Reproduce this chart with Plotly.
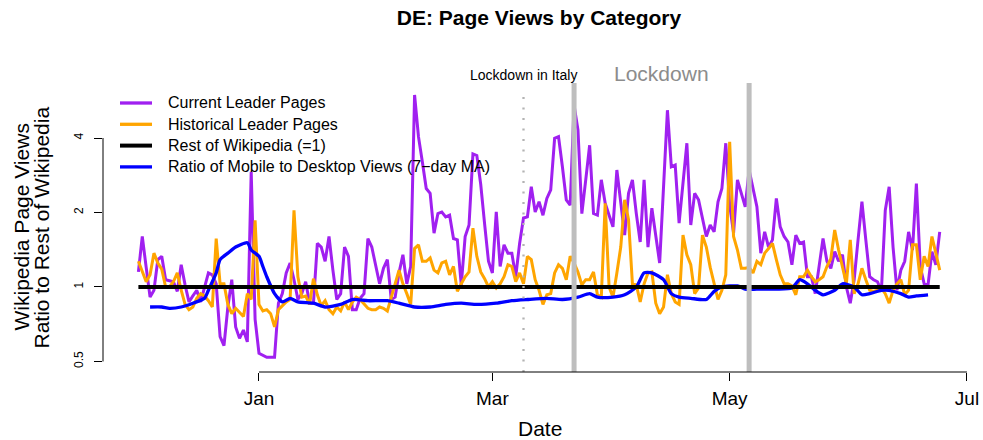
import pandas as pd
import plotly.graph_objects as go

# daily ratios, 2019-12-01 .. 2020-06-24
current_leader = [
    # Dec
    1.15, 1.60, 1.20, 0.91, 0.97, 1.29, 1.33, 1.07, 1.06, 1.05, 0.96, 1.23, 1.02, 0.87, 0.92, 0.97,
    0.87, 1.00, 1.14, 1.12, 1.03, 0.63, 0.58, 0.83, 1.07, 0.69, 0.62, 0.67, 0.60, 2.92, 0.74,
    # Jan
    0.54, 0.53, 0.52, 0.52, 0.52, 0.86, 0.94, 1.14, 1.25, 1.07, 0.89, 0.94, 1.05, 0.86, 0.86, 1.50,
    1.45, 1.27, 1.60, 1.17, 0.89, 0.94, 1.45, 1.33, 0.81, 0.81, 0.90, 0.94, 1.57, 1.45, 1.20,
    # Feb
    1.03, 1.19, 1.29, 0.89, 0.91, 1.14, 1.35, 1.03, 1.21, 5.97, 4.05, 3.20, 2.50, 2.39, 1.65,
    1.98, 2.01, 1.92, 1.95, 1.57, 1.55, 1.02, 1.60, 1.78, 3.45, 3.40, 2.60, 1.80, 1.27,
    # Mar
    1.14, 2.01, 1.21, 1.48, 1.37, 1.37, 1.10, 1.50, 1.90, 1.92, 2.54, 2.01, 2.21, 1.95, 2.28, 2.47,
    3.99, 4.05, 3.06, 2.25, 2.14, 5.43, 4.31, 1.98, 2.71, 3.74, 1.98, 1.95, 2.71, 2.18, 1.95,
    # Apr
    1.75, 2.97, 2.25, 1.62, 2.39, 2.71, 1.98, 1.52, 2.71, 1.45, 2.08, 1.60, 1.25, 2.54, 5.18,
    3.06, 3.11, 1.81, 2.71, 3.81, 1.78, 2.39, 2.25, 1.87, 1.60, 1.78, 1.67, 2.21, 2.50, 3.81,
    # May
    2.14, 1.65, 2.71, 2.39, 2.11, 2.97, 2.47, 2.11, 1.37, 1.67, 1.45, 1.55, 2.28, 1.75, 1.60, 1.52,
    1.23, 1.62, 1.50, 1.52, 1.10, 1.10, 0.94, 1.23, 1.57, 1.27, 1.19, 1.39, 1.27, 1.35, 1.00,
    # Jun
    0.86, 1.07, 1.55, 2.21, 1.55, 1.10, 1.07, 1.05, 0.96, 2.04, 2.54, 1.45, 0.97, 1.17, 1.27, 1.67,
    1.41, 2.62, 1.21, 1.03, 1.02, 1.39, 1.23, 1.67,
]

historical_leader = [
    # Dec
    1.27, 1.15, 1.05, 1.12, 1.37, 1.25, 1.18, 1.00, 1.00, 1.05, 1.14, 0.97, 0.85, 0.81, 0.83, 0.90,
    0.94, 0.92, 0.88, 0.83, 1.57, 1.03, 1.03, 0.85, 0.78, 0.82, 0.79, 0.76, 0.94, 0.89, 1.86,
    # Jan
    0.85, 0.80, 0.81, 0.78, 0.69, 0.81, 0.84, 0.87, 0.89, 2.04, 1.10, 0.91, 0.92, 0.85, 1.08, 0.93,
    0.84, 0.88, 0.81, 0.78, 0.83, 0.80, 0.87, 0.81, 0.87, 0.91, 0.89, 0.85, 0.82, 0.81, 0.81,
    # Feb
    0.83, 0.82, 0.80, 0.90, 1.03, 1.17, 1.03, 0.94, 0.85, 1.43, 1.48, 1.27, 1.27, 1.31, 1.17,
    1.14, 1.25, 1.27, 1.12, 1.21, 0.96, 1.03, 1.10, 1.15, 1.73, 1.33, 1.15, 1.08, 1.00,
    # Mar
    1.05, 0.99, 1.03, 1.10, 1.23, 1.21, 1.05, 1.14, 1.03, 1.33, 1.29, 1.07, 0.97, 0.85, 0.93, 0.94,
    1.14, 1.23, 1.19, 1.07, 1.33, 1.25, 1.15, 1.02, 1.07, 1.07, 1.15, 0.93, 0.91, 2.18, 1.00,
    # Apr
    0.91, 1.14, 1.45, 2.25, 1.87, 1.03, 1.02, 0.87, 1.03, 1.14, 1.15, 0.86, 0.78, 0.83, 1.12,
    0.94, 0.87, 0.85, 1.62, 1.35, 1.23, 0.94, 0.99, 1.62, 1.45, 1.20, 1.02, 0.89, 0.97, 1.12,
    # May
    3.86, 1.60, 1.41, 1.19, 1.19, 1.20, 1.14, 1.27, 1.23, 1.37, 1.43, 1.50, 1.29, 1.12, 1.03, 1.03,
    1.01, 0.93, 1.10, 1.10, 1.17, 1.10, 1.05, 1.07, 1.10, 1.21, 1.30, 1.70, 1.41, 1.21, 1.03,
    # Jun
    1.55, 0.94, 1.03, 1.19, 1.07, 0.97, 0.96, 0.97, 0.99, 0.94, 0.86, 0.97, 1.03, 1.07, 0.93, 0.97,
    1.48, 1.48, 1.07, 1.33, 1.21, 1.60, 1.37, 1.17,
]

dates = pd.date_range("2019-12-01", periods=len(current_leader), freq="D")

# 7-day moving average of mobile/desktop ratio (sampled from the curve)
mobile_dates = [
    "2019-12-04", "2019-12-07", "2019-12-09", "2019-12-12", "2019-12-15", "2019-12-18",
    "2019-12-19", "2019-12-21", "2019-12-22", "2019-12-24", "2019-12-26", "2019-12-29",
    "2019-12-30", "2020-01-01", "2020-01-02", "2020-01-03", "2020-01-05", "2020-01-07",
    "2020-01-09", "2020-01-11", "2020-01-15", "2020-01-18", "2020-01-22", "2020-01-25",
    "2020-01-29", "2020-02-03", "2020-02-06", "2020-02-10", "2020-02-14", "2020-02-18",
    "2020-02-22", "2020-02-26", "2020-03-02", "2020-03-06", "2020-03-10", "2020-03-15",
    "2020-03-19", "2020-03-23", "2020-03-26", "2020-03-28", "2020-04-01", "2020-04-04",
    "2020-04-07", "2020-04-09", "2020-04-11", "2020-04-14", "2020-04-16", "2020-04-18",
    "2020-04-21", "2020-04-25", "2020-04-27", "2020-04-29", "2020-05-03", "2020-05-05",
    "2020-05-08", "2020-05-13", "2020-05-17", "2020-05-19", "2020-05-21", "2020-05-23",
    "2020-05-25", "2020-05-28", "2020-05-30", "2020-06-02", "2020-06-04", "2020-06-06",
    "2020-06-09", "2020-06-11", "2020-06-14", "2020-06-16", "2020-06-18", "2020-06-21",
]
mobile_ratio = [
    0.83, 0.83, 0.82, 0.83, 0.86, 0.90,
    0.97, 1.14, 1.29, 1.37, 1.45, 1.51,
    1.41, 1.33, 1.21, 1.10, 0.94, 0.87,
    0.90, 0.87, 0.86, 0.83, 0.85, 0.89,
    0.88, 0.88, 0.86, 0.83, 0.83, 0.85,
    0.86, 0.85, 0.86, 0.88, 0.89, 0.90,
    0.89, 0.91, 0.94, 0.91, 0.91, 0.93,
    1.00, 1.14, 1.14, 1.07, 0.94, 0.91,
    0.90, 0.89, 0.96, 1.00, 1.01, 0.98,
    0.98, 0.98, 0.99, 1.07, 1.03, 0.97,
    0.93, 0.97, 1.03, 1.00, 0.93, 0.94,
    0.97, 0.97, 0.94, 0.91, 0.92, 0.93,
]

rest_level = 1

italy_lockdown = "2020-03-09"
lockdown_start = "2020-03-22"
lockdown_end = "2020-05-06"

tick_dates = ["2020-01-01", "2020-03-01", "2020-05-01", "2020-07-01"]
tick_labels = ["Jan", "Mar", "May", "Jul"]
y_ticks = [0.5, 1, 2, 4]
y_labels = ["0.5", "1", "2", "4"]

series_names = ["Current Leader Pages", "Historical Leader Pages", "Rest of Wikipedia (=1)",
                "Ratio of Mobile to Desktop Views (7\u2212day MA)"]
series_colors = ["#A020F0", "#FFA500", "black", "#0000FF"]

FONT = "Liberation Sans, Arial, Helvetica, sans-serif"

W, H = 983, 440
ML, MR, MT, MB = 103, 0, 83, 68
PW, PH = W - ML - MR, H - MT - MB


def px_x(x):
    return (x - ML) / PW


def px_y(y):
    return (H - MB - y) / PH


fig = go.Figure()
fig.add_trace(go.Scatter(x=dates, y=current_leader, mode="lines", name=series_names[0],
                         line=dict(color=series_colors[0], width=3)))
fig.add_trace(go.Scatter(x=dates, y=historical_leader, mode="lines", name=series_names[1],
                         line=dict(color=series_colors[1], width=3)))
fig.add_trace(go.Scatter(x=pd.to_datetime(mobile_dates), y=mobile_ratio, mode="lines",
                         name=series_names[3],
                         line=dict(color=series_colors[3], width=3.3, shape="spline", smoothing=0.6)))
fig.add_trace(go.Scatter(x=[dates[0], dates[-1]], y=[rest_level, rest_level], mode="lines",
                         name=series_names[2], line=dict(color=series_colors[2], width=4)))

# event markers
fig.add_shape(type="line", xref="x", yref="paper", x0=italy_lockdown, x1=italy_lockdown,
              y0=0, y1=0.965, line=dict(color="#B3B3B3", width=2.3, dash="2px,8.5px"))
for d in [lockdown_start, lockdown_end]:
    fig.add_shape(type="line", xref="x", yref="paper", x0=d, x1=d, y0=0, y1=1,
                  line=dict(color="#BEBEBE", width=5))

# R-style axis lines spanning only the tick range
fig.add_shape(type="line", xref="paper", yref="y", x0=0, x1=0, y0=y_ticks[0], y1=y_ticks[-1],
              line=dict(color="black", width=1))
fig.add_shape(type="line", xref="x", yref="paper", x0=tick_dates[0], x1=tick_dates[-1], y0=0, y1=0,
              line=dict(color="black", width=1))

mid = pd.Timestamp(lockdown_start) + (pd.Timestamp(lockdown_end) - pd.Timestamp(lockdown_start)) / 2
fig.add_annotation(x=italy_lockdown, xref="x", y=1, yref="paper", yshift=8, yanchor="middle",
                   text="Lockdown in Italy", showarrow=False, font=dict(size=14, color="black"))
fig.add_annotation(x=mid, xref="x", y=1, yref="paper", yshift=10, yanchor="middle",
                   text="Lockdown", showarrow=False, font=dict(size=21, color="#8C8C8C"))

# legend drawn the way base R places it (no box, tight rows)
for i, (name, col) in enumerate(zip(series_names, series_colors)):
    row_y = 103 + 21.3 * i
    fig.add_shape(type="line", xref="paper", yref="paper", x0=px_x(120), x1=px_x(152),
                  y0=px_y(row_y), y1=px_y(row_y), line=dict(color=col, width=4 if i == 2 else 3.3))
    fig.add_annotation(x=px_x(166), xref="paper", y=px_y(row_y), yref="paper", xanchor="left",
                       yanchor="middle", text=name, showarrow=False, font=dict(size=16))

# axis titles
fig.add_annotation(x=0, xref="paper", y=0.5, yref="paper", xshift=-82, textangle=-90,
                   xanchor="center", yanchor="middle", text="Wikipedia Page Views",
                   showarrow=False, font=dict(size=21))
fig.add_annotation(x=0, xref="paper", y=0.5, yref="paper", xshift=-62, textangle=-90,
                   xanchor="center", yanchor="middle", text="Ratio to Rest of Wikipedia",
                   showarrow=False, font=dict(size=21))
fig.add_annotation(x=0.5, xref="paper", y=0, yref="paper", yshift=-56, xshift=-3, yanchor="middle",
                   text="Date", showarrow=False, font=dict(size=21))

fig.update_layout(
    width=W, height=H,
    margin=dict(l=ML, r=MR, t=MT, b=MB, autoexpand=False),
    paper_bgcolor="white", plot_bgcolor="white",
    font=dict(family=FONT, color="black"),
    title=dict(text="<b>DE: Page Views by Category</b>", x=px_x(539), xref="paper", xanchor="center",
               y=1 - 18 / H, yanchor="middle", font=dict(size=21)),
    showlegend=False,
)
fig.update_xaxes(range=["2019-11-21 21:36", "2020-07-05 03:00"], tickvals=tick_dates,
                 ticktext=tick_labels, ticks="outside", ticklen=8, tickcolor="black",
                 showline=False, showgrid=False, zeroline=False, tickfont=dict(size=19),
                 ticklabelstandoff=1, automargin=False, ticklabeloverflow="allow")
fig.update_yaxes(type="log", range=[-0.34355, 0.8243], tickvals=y_ticks, ticktext=y_labels,
                 ticks="outside", ticklen=8, tickcolor="black", tickangle=-90,
                 showline=False, showgrid=False, zeroline=False, tickfont=dict(size=12),
                 ticklabelstandoff=6, automargin=False)

# let the figure fill the window exactly (no default page margin / scrollbars)
fig.write_html("out.html", config={"displayModeBar": False},
               post_script="document.body.style.margin='0';document.body.style.overflow='hidden';")
